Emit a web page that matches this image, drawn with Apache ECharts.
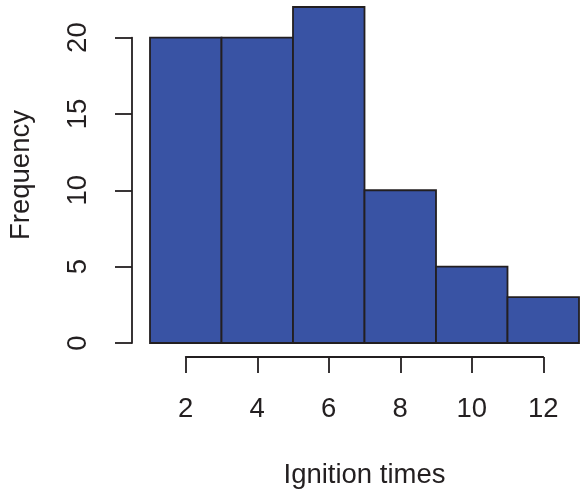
<!DOCTYPE html>
<html>
<head>
<meta charset="utf-8">
<script src="https://cdn.jsdelivr.net/npm/echarts@6/dist/echarts.min.js"></script>
<style>html,body{margin:0;padding:0;background:#fff}#c{width:581px;height:490px}</style>
</head>
<body>
<div id="c"></div>
<script>
const binStarts = [1, 3, 5, 7, 9, 11];
const binEnds = [3, 5, 7, 9, 11, 13];
const counts = [20, 20, 22, 10, 5, 3];
const xTitle = 'Ignition times';
const yTitle = 'Frequency';

const FONT = '"Liberation Sans", Arial, Helvetica, sans-serif';
const INK = '#231f20';
const FILL = '#3953a4';
const FS = 27.5;

const data = binStarts.map((s, i) => [s, binEnds[i], counts[i]]);

const chart = echarts.init(document.getElementById('c'), null, {renderer: 'canvas'});
chart.setOption({
  animation: false,
  backgroundColor: '#ffffff',
  textStyle: {fontFamily: FONT, color: INK},
  grid: [
    {left: 150, width: 429, top: 7, height: 336, containLabel: false, outerBoundsMode: 'none'},
    {left: 185.75, width: 357.5, top: 7, height: 336, containLabel: false, outerBoundsMode: 'none'},
    {left: 132, width: 20, top: 37.6, height: 305.4, containLabel: false, outerBoundsMode: 'none'}
  ],
  xAxis: [
    {gridIndex: 0, type: 'value', min: 1, max: 13,
     axisLine: {show: false}, axisTick: {show: false}, axisLabel: {show: false}, splitLine: {show: false},
     name: xTitle, nameLocation: 'middle', nameGap: 118,
     nameTextStyle: {fontFamily: FONT, fontSize: FS, color: INK}},
    {gridIndex: 1, type: 'value', min: 2, max: 12, interval: 2, position: 'bottom', offset: 14,
     axisLine: {show: true, onZero: false, lineStyle: {color: INK, width: 1.8}},
     axisTick: {show: true, inside: false, length: 16, lineStyle: {color: INK, width: 1.8}},
     axisLabel: {show: true, margin: 38, fontFamily: FONT, fontSize: FS, color: INK},
     splitLine: {show: false}},
    {gridIndex: 2, type: 'value', show: false, min: 0, max: 1}
  ],
  yAxis: [
    {gridIndex: 0, type: 'value', min: 0, max: 22,
     axisLine: {show: false}, axisTick: {show: false}, axisLabel: {show: false}, splitLine: {show: false},
     name: yTitle, nameLocation: 'middle', nameGap: 115,
     nameTextStyle: {fontFamily: FONT, fontSize: FS, color: INK}},
    {gridIndex: 1, type: 'value', show: false, min: 0, max: 1},
    {gridIndex: 2, type: 'value', min: 0, max: 20, interval: 5, position: 'left',
     axisLine: {show: true, onZero: false, lineStyle: {color: INK, width: 1.8}},
     axisTick: {show: true, inside: false, length: 17, lineStyle: {color: INK, width: 1.8}},
     axisLabel: {show: true, rotate: 90, margin: 40, fontFamily: FONT, fontSize: FS, color: INK},
     splitLine: {show: false}}
  ],
  series: [{
    type: 'custom',
    xAxisIndex: 0, yAxisIndex: 0,
    data: data,
    encode: {x: [0, 1], y: 2},
    renderItem: function (params, api) {
      const p0 = api.coord([api.value(0), api.value(2)]);
      const p1 = api.coord([api.value(1), 0]);
      return {
        type: 'rect',
        shape: {x: p0[0], y: p0[1], width: p1[0] - p0[0], height: p1[1] - p0[1]},
        style: {fill: FILL, stroke: INK, lineWidth: 1.8}
      };
    }
  }]
});
</script>
</body>
</html>
